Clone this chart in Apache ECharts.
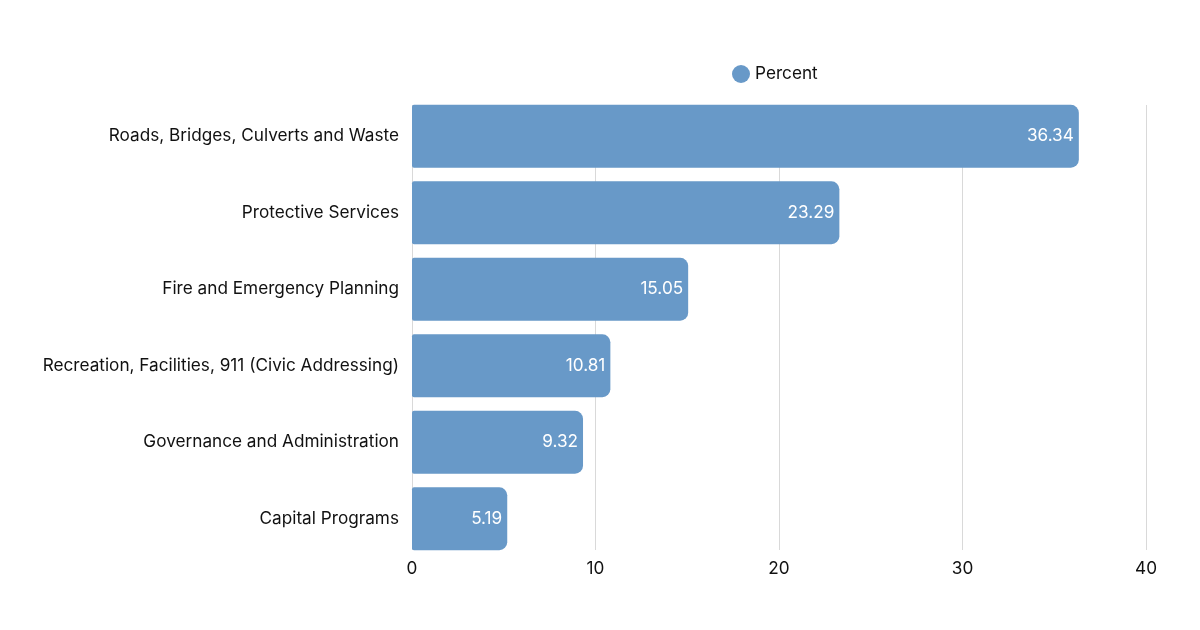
<!DOCTYPE html>
<html><head><meta charset="utf-8">
<script src="https://cdn.jsdelivr.net/npm/echarts@6/dist/echarts.min.js"></script>
<style>html,body{margin:0;padding:0;background:#fff}#c{width:1200px;height:630px}</style>
</head><body><div id="c"></div>
<script>
const categories = ["Roads, Bridges, Culverts and Waste","Protective Services","Fire and Emergency Planning","Recreation, Facilities, 911 (Civic Addressing)","Governance and Administration","Capital Programs"];
const percentValues = [36.34, 23.29, 15.05, 10.81, 9.32, 5.19];
const xTicks = {min: 0, max: 40, interval: 10};
const chart = echarts.init(document.getElementById('c'));
const FS = 17.2;
chart.setOption({
  animation: false,
  textStyle: {fontFamily: 'Inter'},
  legend: {top: 60, left: 727, icon: 'circle', itemWidth: 18, itemHeight: 18, itemGap: 8,
    textStyle: {fontSize: FS, color: '#111', fontFamily: 'Inter'}, data: ['Percent']},
  grid: [
    {left: 412, right: 54, top: 98, bottom: 73, containLabel: false},
    {left: 412, right: 54, top: 105, bottom: 80, containLabel: false}
  ],
  xAxis: [
    {type: 'value', gridIndex: 0, min: xTicks.min, max: xTicks.max, interval: xTicks.interval,
      axisLine: {show: false}, axisTick: {show: false}, splitLine: {show: false},
      axisLabel: {fontSize: FS, color: '#111', margin: 3, fontFamily: 'Inter'}},
    {type: 'value', gridIndex: 1, min: xTicks.min, max: xTicks.max, interval: xTicks.interval,
      axisLine: {show: false}, axisTick: {show: false}, axisLabel: {show: false},
      splitLine: {show: true, lineStyle: {color: '#d9d9d9', width: 1}}}
  ],
  yAxis: [
    {type: 'category', gridIndex: 0, data: categories, inverse: true,
      axisLine: {show: false}, axisTick: {show: false},
      axisLabel: {fontSize: FS, color: '#111', margin: 13, fontFamily: 'Inter'}},
    {type: 'category', gridIndex: 1, data: categories, inverse: true, show: false}
  ],
  series: [{name: 'Percent', type: 'bar', xAxisIndex: 0, yAxisIndex: 0, data: percentValues, barCategoryGap: '17.8%',
    itemStyle: {color: '#6899c8', borderRadius: [2, 8, 8, 2]},
    label: {show: true, position: 'insideRight', color: '#fff', fontSize: FS, distance: 5, fontFamily: 'Inter'}}]
});
</script></body></html>
